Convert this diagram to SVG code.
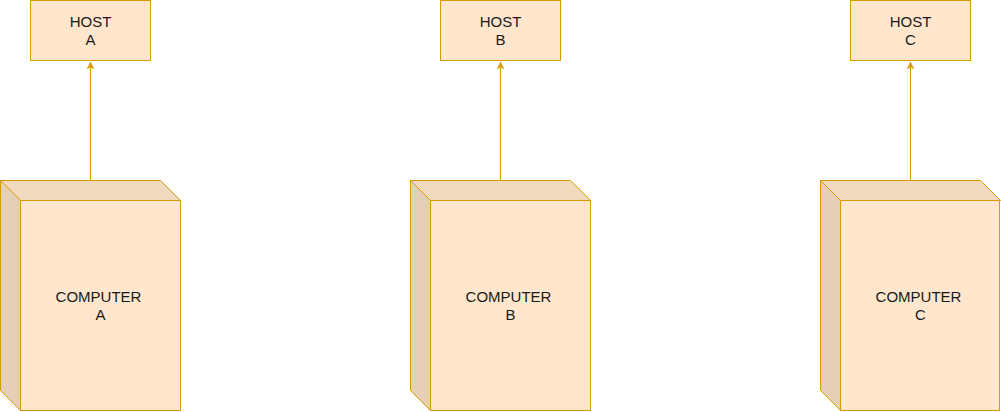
<svg xmlns="http://www.w3.org/2000/svg" width="1001" height="412" viewBox="0 0 1001 412">
<defs>
<style>
.box{fill:#ffe6cc;stroke:#d79b00;stroke-width:1}
.top{fill:#f1d9be;stroke:#d79b00;stroke-width:1}
.side{fill:#e5cfb6;stroke:#d79b00;stroke-width:1}
.edge{fill:none;stroke:#d79b00;stroke-width:1}
text{font-family:"Liberation Sans",Arial,sans-serif;font-size:15px;fill:#1a1a1a;text-anchor:middle}
</style>
<marker id="arr" markerWidth="8" markerHeight="8" viewBox="0 0 8 8" refX="7" refY="4" orient="auto" markerUnits="userSpaceOnUse">
<path d="M0,0.5 L7,4 L0,7.5 L2,4 Z" fill="#d79b00" stroke="#d79b00" stroke-width="0.5"/>
</marker>
</defs>
<g id="connectors">
<line class="edge" x1="90.5" y1="180.5" x2="90.5" y2="62" marker-end="url(#arr)"/>
<line class="edge" x1="500.5" y1="180.5" x2="500.5" y2="62" marker-end="url(#arr)"/>
<line class="edge" x1="910.5" y1="180.5" x2="910.5" y2="62" marker-end="url(#arr)"/>
</g>
<g id="hostA">
<rect class="box" x="30.5" y="0.5" width="120" height="60"/>
<text x="90.5" y="27">HOST</text><text x="90.5" y="45">A</text>
</g>
<g id="hostB">
<rect class="box" x="440.5" y="0.5" width="120" height="60"/>
<text x="500.5" y="27">HOST</text><text x="500.5" y="45">B</text>
</g>
<g id="hostC">
<rect class="box" x="850.5" y="0.5" width="120" height="60"/>
<text x="910.5" y="27">HOST</text><text x="910.5" y="45">C</text>
</g>
<g id="computerA">
<polygon class="top" points="0.5,180.5 160.5,180.5 180.5,200.5 20.5,200.5"/>
<polygon class="side" points="0.5,180.5 20.5,200.5 20.5,410.5 0.5,390.5"/>
<rect class="box" x="20.5" y="200.5" width="160" height="210"/>
<text x="98.5" y="302">COMPUTER</text><text x="100.5" y="320">A</text>
</g>
<g id="computerB">
<polygon class="top" points="410.5,180.5 570.5,180.5 590.5,200.5 430.5,200.5"/>
<polygon class="side" points="410.5,180.5 430.5,200.5 430.5,410.5 410.5,390.5"/>
<rect class="box" x="430.5" y="200.5" width="160" height="210"/>
<text x="508.5" y="302">COMPUTER</text><text x="510.5" y="320">B</text>
</g>
<g id="computerC">
<polygon class="top" points="820.5,180.5 980.5,180.5 1000.5,200.5 840.5,200.5"/>
<polygon class="side" points="820.5,180.5 840.5,200.5 840.5,410.5 820.5,390.5"/>
<rect class="box" x="840.5" y="200.5" width="159" height="210"/>
<text x="918.5" y="302">COMPUTER</text><text x="920.5" y="320">C</text>
</g>
</svg>
